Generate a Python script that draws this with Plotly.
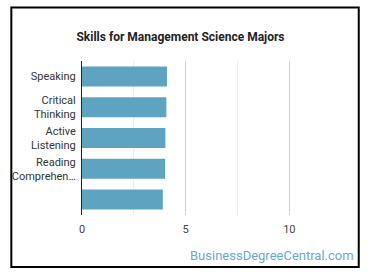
import plotly.graph_objects as go

categories = ["Speaking", "Critical<br>Thinking", "Active<br>Listening", "Reading<br>Comprehen…", " "]
values = [4.1, 4.07, 4.02, 4.01, 3.9]
x_ticks = [0, 5, 10]

L, R, T, B = 79, 33, 61, 63
W, H = 370, 278
pw = W - L - R
ph = H - T - B

def px_x(p):
    return (p - L) / pw

def px_y(p):
    return (H - B - p) / ph

fig = go.Figure(go.Bar(
    x=values, y=categories, orientation="h",
    marker=dict(color="#5ea4c1", line=dict(width=0)),
    width=0.65,
))

fig.update_layout(
    width=W, height=H,
    margin=dict(l=L, r=R, t=T, b=B),
    paper_bgcolor="white", plot_bgcolor="white",
    showlegend=False,
    font=dict(family="Roboto, sans-serif", color="#333"),
    title=dict(text="<b>Skills for Management Science Majors</b>",
               x=180.5 / W, xanchor="center", xref="container",
               y=1 - 37 / H, yanchor="middle", yref="container",
               font=dict(size=12, color="#222")),
    xaxis=dict(range=[0, 12.3], tickvals=x_ticks, ticktext=[str(v) for v in x_ticks],
               showgrid=True, gridcolor="#cfcfcf", gridwidth=1,
               minor=dict(dtick=2.5, showgrid=True, gridcolor="#ececec"),
               zeroline=False, showline=False, ticks="", ticklabelstandoff=6,
               tickfont=dict(size=11, color="#444")),
    yaxis=dict(categoryorder="array", categoryarray=categories[::-1],
               showline=True, linecolor="#222", linewidth=1,
               showgrid=False, ticks="", ticklabelstandoff=3,
               tickfont=dict(size=11, color="#333")),
    bargap=0.35,
)

fig.add_shape(type="rect", xref="paper", yref="paper",
              x0=px_x(7.5), x1=px_x(359), y0=px_y(267), y1=px_y(7.5),
              line=dict(color="black", width=2), fillcolor="rgba(0,0,0,0)")

fig.add_annotation(text="BusinessDegreeCentral.com", xref="paper", yref="paper",
                   x=px_x(356), y=px_y(255), xanchor="right", yanchor="middle",
                   showarrow=False, font=dict(size=13, color="#6aa9c9"))

fig.write_html("out.html")
